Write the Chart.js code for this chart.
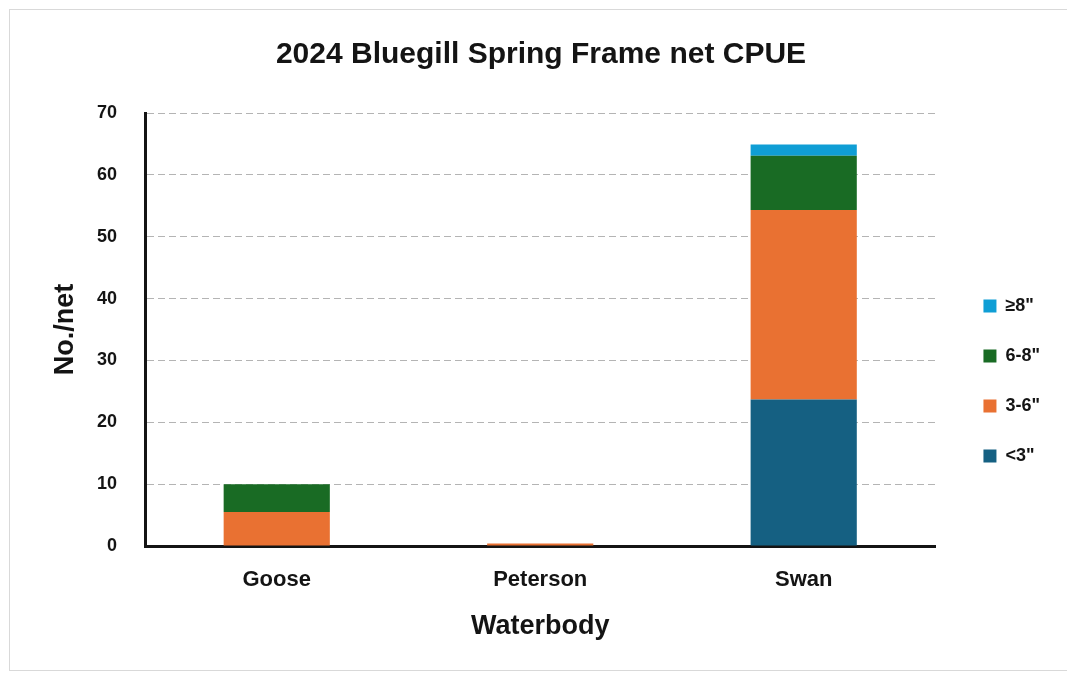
<!DOCTYPE html>
<html>
<head>
<meta charset="utf-8">
<script src="https://cdn.jsdelivr.net/npm/chart.js@4"></script>
<style>
  html, body { margin: 0; padding: 0; background: #fff; }
  #wrap { position: relative; width: 1067px; height: 675px; overflow: hidden; }
  #frame { position: absolute; left: 9px; top: 9px; width: 1070px; height: 662px; border: 1px solid #d9d9d9; box-sizing: border-box; }
  canvas { position: absolute; left: 0; top: 0; }
</style>
</head>
<body>
<div id="wrap">
  <div id="frame"></div>
  <canvas id="c" width="1067" height="675"></canvas>
</div>
<script>
// Bluegill catch per net, by length class, for each waterbody
const waterbodies = ['Goose', 'Peterson', 'Swan'];
const under3 = [0, 0, 23.7];
const from3to6 = [5.5, 0.4, 30.6];
const from6to8 = [4.5, 0, 8.8];
const over8 = [0, 0, 1.8];
const sizeLabels = ['<3"', '3-6"', '6-8"', '≥8"'];
const sizeColors = ['#156082', '#E97132', '#196B24', '#0F9ED5'];
const yTicks = { min: 0, max: 70, step: 10 };

const seriesValues = [under3, from3to6, from6to8, over8];
const datasets = seriesValues.map((vals, i) => ({
  label: sizeLabels[i],
  data: vals,
  backgroundColor: sizeColors[i],
  borderWidth: 0,
  barPercentage: 0.806,
  categoryPercentage: 0.5
}));

const fontFamily = '"Liberation Sans", Arial, sans-serif';
const ink = '#141414';

new Chart(document.getElementById('c'), {
  type: 'bar',
  data: { labels: waterbodies, datasets },
  options: {
    responsive: false,
    animation: false,
    layout: { padding: { top: 30, left: 32, right: 17, bottom: 32 } },
    plugins: {
      title: {
        display: true,
        text: '2024 Bluegill Spring Frame net CPUE',
        color: ink,
        font: { family: fontFamily, size: 30, weight: 'bold' },
        padding: { top: 7, bottom: 40 }
      },
      legend: {
        position: 'right',
        reverse: true,
        title: { display: true, text: '', font: { size: 10 }, padding: { top: 77, bottom: 0 } },
        labels: {
          color: ink,
          boxWidth: 13,
          boxHeight: 13,
          padding: 32,
          font: { family: fontFamily, size: 18, weight: 'bold' }
        }
      },
      tooltip: { enabled: false }
    },
    scales: {
      x: {
        stacked: true,
        grid: { display: false, drawTicks: false },
        border: { color: ink, width: 3 },
        ticks: { color: ink, padding: 21, font: { family: fontFamily, size: 22, weight: 'bold' } },
        title: {
          display: true,
          text: 'Waterbody',
          color: ink,
          font: { family: fontFamily, size: 27, weight: 'bold' },
          padding: { top: 17, bottom: 0 }
        },
        afterFit(scale) { scale.height = 97; }
      },
      y: {
        stacked: true,
        min: yTicks.min,
        max: yTicks.max,
        grid: { color: '#b4b4b4', lineWidth: 1, drawTicks: false },
        border: { color: ink, width: 3, dash: [7, 4] },
        ticks: { stepSize: yTicks.step, color: ink, padding: 28, font: { family: fontFamily, size: 18, weight: 'bold' } },
        title: {
          display: true,
          text: 'No./net',
          color: ink,
          font: { family: fontFamily, size: 27, weight: 'bold' },
          padding: { top: 17, bottom: 0 }
        },
        afterFit(scale) { scale.width = 113; }
      },
      // empty spacer between the plot and the legend
      gap: {
        axis: 'y',
        position: 'right',
        display: true,
        grid: { display: false, drawTicks: false },
        border: { display: false },
        ticks: { display: false },
        afterFit(scale) { scale.width = 16; }
      }
    }
  }
});
</script>
</body>
</html>
